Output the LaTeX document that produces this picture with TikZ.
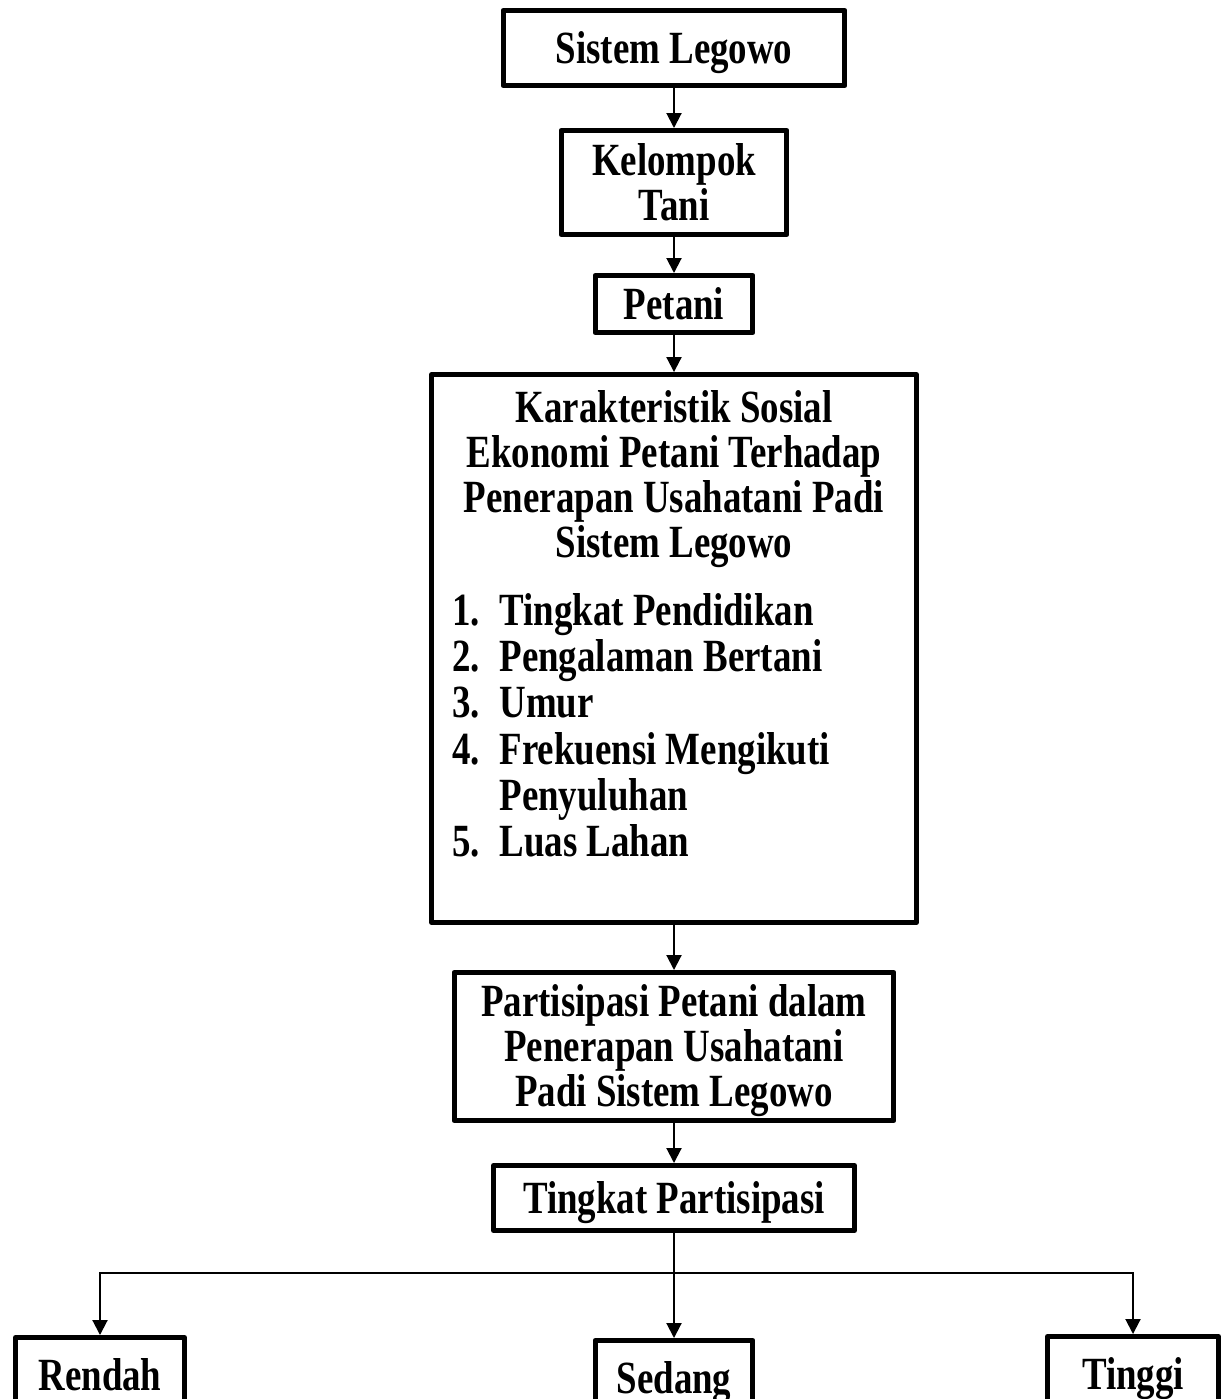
\documentclass[tikz,border=0pt]{standalone}
\usepackage{fontspec}
\setmainfont{Liberation Serif}
\usepackage{graphicx}
\usetikzlibrary{positioning, arrows.meta}

% tall bold text, as in the scanned figure
\newcommand{\vtext}[1]{\scalebox{1}[1.25]{\begin{tabular}[t]{@{}c@{}}\rule{0pt}{19.9pt}#1\end{tabular}}}

\begin{document}
\begin{tikzpicture}[
    x=0.02cm, y=-0.02cm,
    kotak/.style={draw,line width=0.1cm,line join=round,inner sep=0pt,
        font=\fontsize{21}{20}\selectfont\bfseries},
    teks/.style={inner sep=0pt,font=\fontsize{21}{20}\selectfont\bfseries},
    panah/.style={-{Triangle[length=0.3cm,width=0.3cm]},line width=0.04cm}
]
\useasboundingbox (0,0) rectangle (1225,1399);
% Top chain
\node[kotak,minimum width=6.84cm,minimum height=1.5cm] (sistem) at (674,48) {\vtext{Sistem Legowo}};
\node[kotak,minimum width=4.52cm,minimum height=2.08cm] (kelompok) at (674,182.5) {\vtext{Kelompok\\Tani}};
\node[kotak,minimum width=3.16cm,minimum height=1.14cm] (petani) at (674,304) {\vtext{Petani}};
% Big box with title and list
\node[kotak,minimum width=9.7cm,minimum height=10.96cm] (kar) at (674,648.5) {};
\node[teks,anchor=base] (karjudul) at (674,422) {\vtext{Karakteristik Sosial\\Ekonomi Petani Terhadap\\Penerapan Usahatani Padi\\Sistem Legowo}};
\node[teks,anchor=base west,font=\fontsize{21}{21.1}\selectfont\bfseries] (kardaftar) at (452,625)
    {\scalebox{1}[1.25]{\begin{tabular}[t]{@{}l@{\hspace{0.39cm}}l@{}}
    1. & Tingkat Pendidikan\\
    2. & Pengalaman Bertani\\
    3. & Umur\\
    4. & Frekuensi Mengikuti\\
       & Penyuluhan\\
    5. & Luas Lahan
    \end{tabular}}};
\node[kotak,minimum width=8.8cm,minimum height=2.96cm] (partisipasi) at (674,1046.5) {\vtext{Partisipasi Petani dalam\\Penerapan Usahatani\\Padi Sistem Legowo}};
\node[kotak,minimum width=7.22cm,minimum height=1.3cm] (tingkat) at (674,1198) {\vtext{Tingkat Partisipasi}};
% Bottom row
\node[kotak,minimum width=3.38cm,minimum height=1.5cm] (rendah) at (100,1375) {\vtext{Rendah}};
\node[kotak,minimum width=3.16cm,minimum height=1.5cm] (sedang) at (674,1378) {\vtext{Sedang}};
\node[kotak,minimum width=3.42cm,minimum height=1.5cm] (tinggi) at (1133,1374) {\vtext{Tinggi}};
\coordinate (cabang) at (674,1273);

% Arrows
\draw[panah] (sistem.south) -- (kelompok.north);
\draw[panah] (kelompok.south) -- (petani.north);
\draw[panah] (petani.south) -- (kar.north);
\draw[panah] (kar.south) -- (partisipasi.north);
\draw[panah] (partisipasi.south) -- (tingkat.north);
\draw[panah] (tingkat.south) -- (sedang.north);
\draw[panah] (cabang) -| (rendah.north);
\draw[panah] (cabang) -| (tinggi.north);
\end{tikzpicture}
\end{document}
